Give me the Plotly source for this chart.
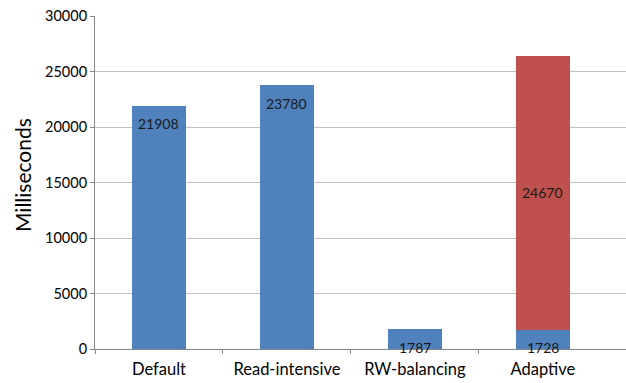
import plotly.graph_objects as go

# Execution time per placement strategy (milliseconds)
categories = ["Default", "Read-intensive", "RW-balancing", "Adaptive"]
base_ms = [21908, 23780, 1787, 1728]          # blue segment
extra_ms = [None, None, None, 24670]          # red segment stacked on top (Adaptive only)
y_ticks = [0, 5000, 10000, 15000, 20000, 25000, 30000]
boundary_ticks = [-0.5, 0.5, 1.5, 2.5]        # tick marks between categories

BLUE = "#4F81BD"
RED = "#C0504D"
FONT = "Lato"
X_RANGE = [-0.5, 3.65]

fig = go.Figure()
fig.add_trace(go.Bar(x=categories, y=base_ms, marker=dict(color=BLUE, line=dict(width=0)),
                     width=0.42, hoverinfo="x+y"))
fig.add_trace(go.Bar(x=categories, y=extra_ms, marker=dict(color=RED, line=dict(width=0)),
                     width=0.42, hoverinfo="x+y"))
# invisible anchor so the numeric twin axis (boundary ticks) is rendered
fig.add_trace(go.Scatter(x=boundary_ticks, y=[0] * len(boundary_ticks), xaxis="x2",
                         mode="markers", marker=dict(opacity=0), hoverinfo="skip"))

# Data labels: tall bars get the label near the top, short bars at the base,
# the stacked red segment in its middle.
annotations = []
for cat, v in zip(categories, base_ms):
    if v > 10000:
        annotations.append(dict(x=cat, y=v, text=str(v), yshift=-18, yanchor="middle"))
    else:
        annotations.append(dict(x=cat, y=0, text=str(v), yshift=2, yanchor="middle"))
for cat, b, e in zip(categories, base_ms, extra_ms):
    if e:
        annotations.append(dict(x=cat, y=b + e / 2, text=str(e), yanchor="middle"))
for a in annotations:
    a.update(showarrow=False, xanchor="center",
             font=dict(family=FONT, size=14, color="#1a1a1a"))

# Y-axis title placed as a rotated annotation
annotations.append(dict(
    text="Milliseconds", textangle=-90, showarrow=False,
    xref="paper", yref="paper", x=-95 / 531 + 22 / 531, y=(349 - 175) / 333,
    xanchor="center", yanchor="middle",
    font=dict(family=FONT, size=21, color="#000000"),
))

fig.update_layout(
    barmode="stack",
    width=626, height=383,
    margin=dict(l=95, r=0, t=16, b=34, autoexpand=False),
    paper_bgcolor="white", plot_bgcolor="white",
    showlegend=False,
    font=dict(family=FONT, size=14, color="#000000"),
    annotations=annotations,
    xaxis=dict(
        type="category", range=X_RANGE,
        showline=True, linecolor="#868686", linewidth=1,
        ticks="", ticklabelstandoff=5,
        showgrid=False, tickfont=dict(family=FONT, size=16.5, color="#000000"),
    ),
    # numeric twin of the category axis, used only for the boundary tick marks
    xaxis2=dict(
        overlaying="x", anchor="y", side="bottom", range=X_RANGE,
        tickvals=boundary_ticks, ticks="outside", ticklen=4,
        tickcolor="#868686", showticklabels=False, showgrid=False,
        showline=False, zeroline=False,
    ),
    yaxis=dict(
        range=[0, 30000], tickvals=y_ticks, ticktext=[str(t) for t in y_ticks],
        showline=True, linecolor="#868686", linewidth=1,
        ticks="outside", ticklen=4, tickcolor="#868686",
        showgrid=True, gridcolor="#c0c0c0", gridwidth=1, zeroline=False,
        tickfont=dict(family=FONT, size=14.5, color="#000000"),
    ),
)

fig.write_html("out.html")
